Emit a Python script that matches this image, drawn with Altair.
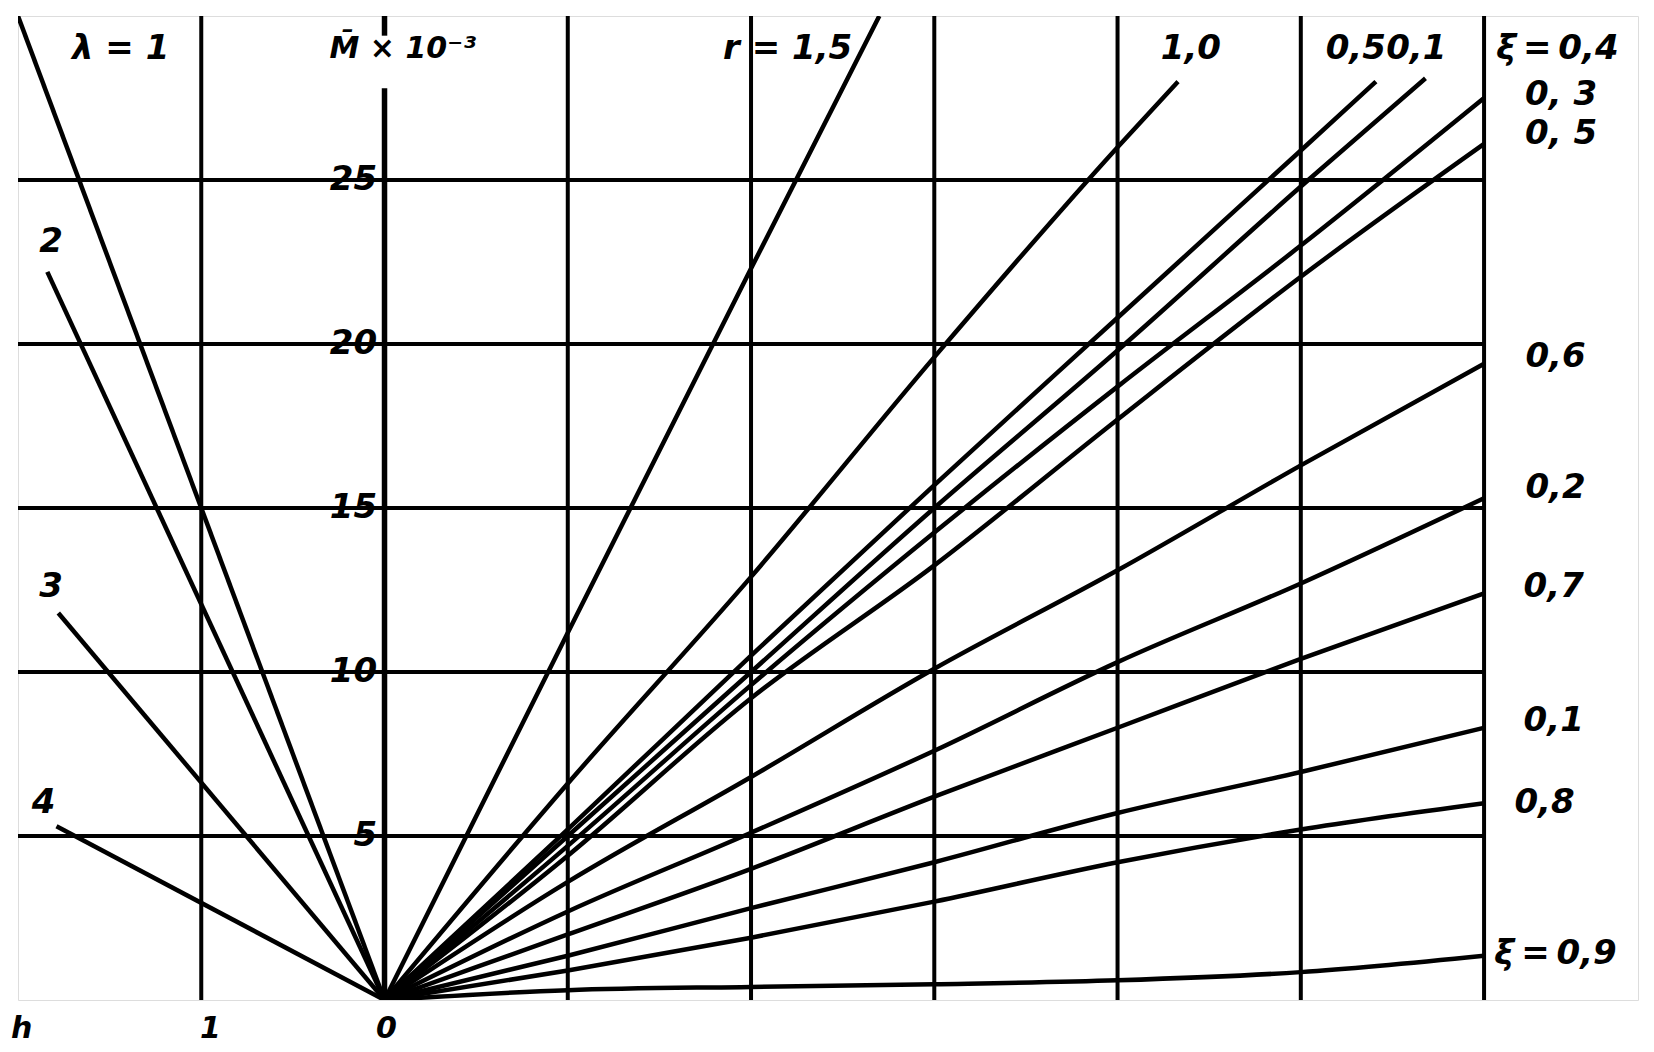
import altair as alt
import pandas as pd

# ---------------- data ----------------
# left family (lambda): straight rays from the origin to these end points (h, M)
lam_labels = ["1", "2", "3", "4"]
lam_h_end = [-2.0, -1.84, -1.78, -1.79]
lam_M_end = [30.0, 22.2, 11.8, 5.3]

# right family: rays from the origin (x in grid units, M x 10^-3)
r15_x = [0, 1, 2, 2.70]
r15_y = [0, 11.2, 22.3, 30.0]
r10_x = [0, 1, 2, 3, 4, 4.33]
r10_y = [0, 6.6, 12.9, 19.6, 26.0, 28.0]
r05_x = [0, 1, 2, 3, 4, 5, 5.41]
r05_y = [0, 5.2, 10.5, 15.7, 20.8, 25.9, 28.0]
r01_x = [0, 1, 2, 3, 4, 5, 5.68]
r01_y = [0, 5.0, 10.0, 15.0, 19.8, 24.8, 28.1]
xi04_y = [0, 4.7, 9.6, 14.25, 18.7, 23.0, 27.5]
xi03_y = [0, 4.4, 9.2, 13.25, 17.7, 22.05, 26.1]
xi06_y = [0, 3.6, 6.8, 10.1, 13.1, 16.3, 19.4]
xi02_y = [0, 2.7, 5.1, 7.6, 10.3, 12.7, 15.3]
xi07_y = [0, 2.0, 4.0, 6.2, 8.3, 10.4, 12.4]
xi01_y = [0, 1.35, 2.8, 4.2, 5.7, 6.95, 8.3]
xi08_y = [0, 0.9, 1.9, 3.0, 4.2, 5.2, 6.0]
xi09_y = [0, 0.3, 0.4, 0.48, 0.6, 0.85, 1.35]
xi_x = [0, 1, 2, 3, 4, 5, 6]

# grid
v_grid = [-1, 1, 2, 3, 4, 5, 6]
h_grid = [5, 10, 15, 20, 25]
y_tick_labels = ["5", "10", "15", "20", "25"]

# labels
top_labels = ["\u03bb = 1", "2", "3", "4", "r = 1,5", "1,0", "0,5", "0,1"]
top_lx = [-1.44, -1.82, -1.82, -1.86, 2.20, 4.40, 5.30, 5.63]
top_ly = [29.0, 23.1, 12.6, 6.0, 29.0, 29.0, 29.0, 29.0]
xi_labels = ["\u03be\u2009=\u20090,4", "0, 3", "0, 5", "0,6", "0,2", "0,7", "0,1", "0,8",
             "\u03be\u2009=\u20090,9"]
xi_lx = [6.40, 6.42, 6.42, 6.39, 6.39, 6.38, 6.38, 6.33, 6.39]
xi_ly = [29.0, 27.6, 26.4, 19.6, 15.6, 12.6, 8.5, 6.0, 1.4]
bottom_labels = ["h", "1", "0"]
bottom_lx = [-1.98, -0.95, 0.01]
axis_title = "M\u0304 \u00d7 10\u207b\u00b3"

# ---------------- build tables ----------------
rows = []
for lab, hx, my in zip(lam_labels, lam_h_end, lam_M_end):
    rows.append(dict(curve="lam" + lab, x=0.0, y=0.0, o=0))
    rows.append(dict(curve="lam" + lab, x=hx, y=my, o=1))
for name, xs_, ys_ in [("r15", r15_x, r15_y), ("r10", r10_x, r10_y),
                       ("r05", r05_x, r05_y), ("r01", r01_x, r01_y),
                       ("x04", xi_x, xi04_y), ("x03", xi_x, xi03_y),
                       ("x06", xi_x, xi06_y), ("x02", xi_x, xi02_y),
                       ("x07", xi_x, xi07_y), ("x01", xi_x, xi01_y),
                       ("x08", xi_x, xi08_y), ("x09", xi_x, xi09_y)]:
    for i, (a, b) in enumerate(zip(xs_, ys_)):
        rows.append(dict(curve=name, x=a, y=b, o=i))
curves = pd.DataFrame(rows)

vg = pd.DataFrame({"x": v_grid, "y0": 0, "y1": 30})
hg = pd.DataFrame({"y": h_grid, "x0": -2, "x1": 6})
yaxis = pd.DataFrame({"x": [0, 0], "y0": [0, 29.4], "y1": [27.8, 30]})
ytl = pd.DataFrame({"y": h_grid, "label": y_tick_labels, "x": -0.04})
tl = pd.DataFrame({"x": top_lx, "y": top_ly, "label": top_labels})
xl = pd.DataFrame({"x": xi_lx, "y": xi_ly, "label": xi_labels})
bl = pd.DataFrame({"x": bottom_lx, "y": -0.88, "label": bottom_labels})
at = pd.DataFrame({"x": [0.1], "y": [29.0], "label": [axis_title]})

xs = alt.Scale(domain=[-2, 6.84], nice=False, zero=False)
ys = alt.Scale(domain=[0, 30], nice=False, zero=False)
FONT = "DejaVu Sans"

def X(f="x"):
    return alt.X(f + ":Q", scale=xs, axis=None)

def Y(f="y"):
    return alt.Y(f + ":Q", scale=ys, axis=None)

vgrid = alt.Chart(vg).mark_rule(color="black", strokeWidth=4).encode(
    x=X(), y=Y("y0"), y2="y1:Q")
hgrid = alt.Chart(hg).mark_rule(color="black", strokeWidth=4).encode(
    y=Y(), x=X("x0"), x2="x1:Q")
yax = alt.Chart(yaxis).mark_rule(color="black", strokeWidth=5.5).encode(
    x=X(), y=Y("y0"), y2="y1:Q")
lines = alt.Chart(curves).mark_line(color="black", strokeWidth=4.5, clip=True,
                                    interpolate="monotone").encode(
    x=X(), y=Y(), detail="curve:N", order="o:Q")

def txt(df, align="center", size=34):
    return alt.Chart(df).mark_text(
        font=FONT, fontSize=size, fontStyle="italic", fontWeight="bold",
        color="black", align=align, baseline="middle").encode(
        x=X(), y=Y(), text="label:N")

chart = alt.layer(
    vgrid, hgrid, yax, lines,
    txt(ytl, align="right"),
    txt(tl), txt(xl), txt(bl, size=30), txt(at, size=30),
).properties(
    width=1620, height=984,
    padding={"left": 10, "top": 8, "right": 8, "bottom": 44},
    autosize="none",
).configure_view(stroke="black", strokeWidth=5).configure(background="white")

chart.save("out.html", embed_options={"renderer": "svg", "actions": False})
